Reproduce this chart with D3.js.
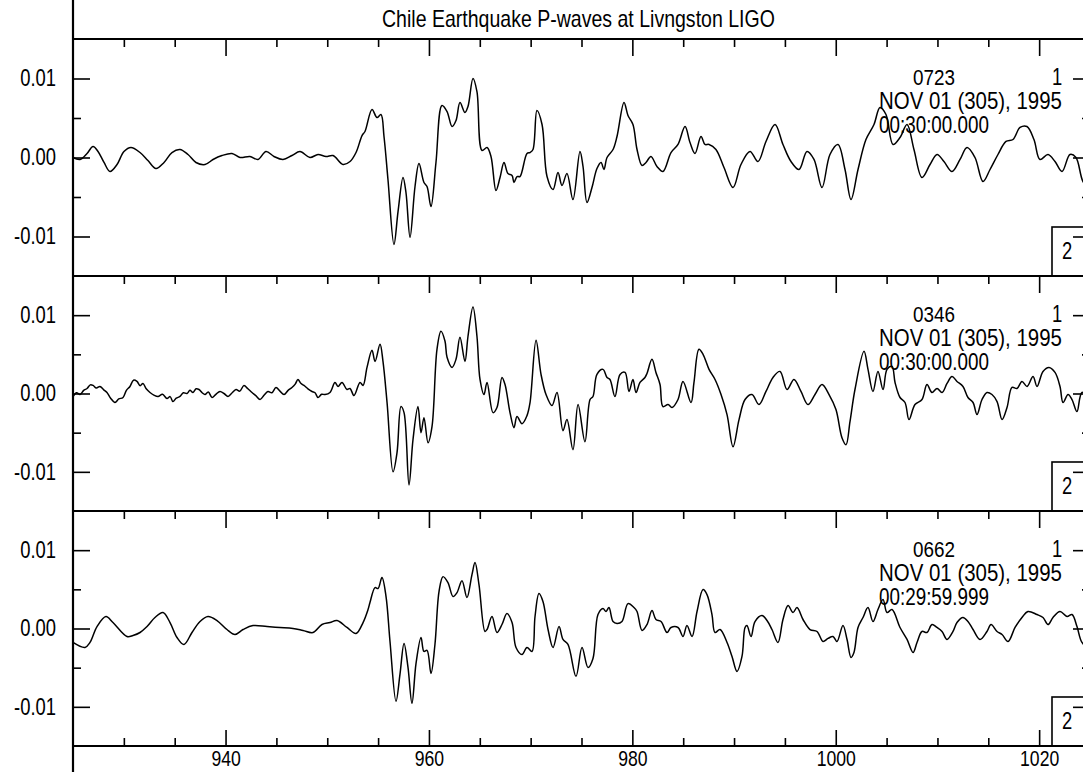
<!DOCTYPE html>
<html>
<head>
<meta charset="utf-8">
<script src="https://cdn.jsdelivr.net/npm/d3@7"></script>
<style>
  html, body { margin: 0; padding: 0; background: #fff; }
  svg { display: block; }
  text { font-family: "Liberation Sans", Arial, sans-serif; fill: #000; }
</style>
</head>
<body>
<svg id="chart" width="1083" height="772"></svg>
<script>
// ---- labels -------------------------------------------------------------
const chartTitle = "Chile Earthquake P-waves at Livngston LIGO";
const stationIds = ["0723", "0346", "0662"];
const dateLines = ["NOV 01 (305), 1995", "NOV 01 (305), 1995", "NOV 01 (305), 1995"];
const startTimes = ["00:30:00.000", "00:30:00.000", "00:29:59.999"];
const fileLabel = "1";
const boxLabel = "2";

// ---- ticks --------------------------------------------------------------
const xMajorTicks = [940, 960, 980, 1000, 1020];
const xMinorTicks = [930, 935, 945, 950, 955, 965, 970, 975, 985, 990, 995, 1005, 1010, 1015, 1025];
const yMajorTicks = [-0.01, 0, 0.01];
const yTickLabels = ["-0.01", "0.00", "0.01"];
const yMinorTicks = [-0.005, 0.005];
const timeDomain = [925, 1025];
const ampDomain = [-0.015, 0.015];

// ---- traces: [time (s), amplitude in thousandths] ------------------------
const AMP_UNIT = 0.001;

const trace0723 = [
  [925.00,0.00],[925.69,-0.25],[926.38,0.51],[926.97,1.39],[927.46,0.76],[928.05,-0.63],[928.64,-1.77],[929.33,-0.89],
  [930.01,0.76],[930.70,1.27],[931.59,0.63],[932.37,-0.38],[933.16,-1.39],[933.95,-0.63],[934.73,0.63],[935.52,1.01],
  [936.31,0.38],[937.09,-0.63],[937.98,-0.89],[938.77,-0.25],[939.65,0.25],[940.63,0.51],[941.42,0.00],[942.40,0.13],
  [943.19,-0.25],[943.98,0.76],[944.76,0.13],[945.65,-0.25],[946.53,0.25],[947.32,0.76],[948.30,0.00],[949.09,0.38],
  [949.88,0.13],[950.57,0.25],[951.55,-0.89],[952.24,-0.51],[952.83,0.63],[953.42,2.78],[953.71,3.29],[954.40,6.08],
  [954.89,5.06],[955.28,5.44],[955.58,2.66],[955.97,-2.78],[956.56,-11.0],[956.96,-6.84],[957.45,-2.53],[957.74,-4.43],
  [958.14,-10.1],[958.63,-3.67],[959.02,-0.76],[959.51,-3.16],[959.81,-3.67],[960.20,-6.20],[960.69,-0.63],[961.28,6.58],
  [961.78,5.82],[962.27,3.92],[962.66,4.68],[963.05,6.96],[963.54,5.70],[963.84,6.46],[964.33,10.0],[964.72,8.35],
  [965.22,0.89],[965.71,1.27],[966.10,0.13],[966.59,-4.18],[966.99,-2.53],[967.38,-0.63],[967.77,-2.03],[968.17,-2.28],
  [968.36,-3.16],[968.66,-2.41],[968.95,-2.41],[969.64,0.51],[969.94,0.63],[970.23,1.01],[970.62,5.95],[971.12,4.18],
  [971.61,-2.41],[972.20,-4.05],[972.69,-1.90],[973.08,-3.54],[973.57,-2.03],[974.16,-5.32],[974.85,0.76],[975.15,-1.14],
  [975.54,-5.70],[976.03,-3.80],[976.52,-1.39],[976.92,-0.63],[977.21,-1.52],[977.51,0.00],[978.10,1.01],[978.49,2.66],
  [979.18,6.96],[979.57,5.32],[980.06,4.18],[980.46,1.01],[980.95,-1.01],[981.34,-0.63],[981.83,0.13],[982.42,-1.14],
  [983.01,-1.77],[983.80,0.63],[984.49,1.65],[985.18,3.92],[985.67,1.90],[986.16,0.51],[986.75,2.66],[987.14,1.65],
  [987.54,1.65],[988.22,1.01],[989.01,-1.27],[989.90,-3.80],[990.68,-0.89],[991.57,0.76],[992.35,-0.51],[993.14,2.03],
  [994.03,4.18],[994.81,1.65],[995.60,-0.51],[996.39,-1.52],[997.17,0.76],[997.86,-0.25],[998.65,-3.80],[999.43,0.38],
  [1000.22,1.65],[1000.91,-1.52],[1001.50,-5.32],[1002.19,-1.52],[1002.97,2.28],[1003.76,4.18],[1004.35,6.33],[1004.94,5.44],
  [1005.63,1.65],[1006.32,2.53],[1007.01,4.18],[1007.69,1.01],[1008.48,-2.53],[1009.27,-0.89],[1009.96,0.38],[1010.64,-0.51],
  [1011.43,-1.77],[1012.22,-0.25],[1012.91,1.27],[1013.69,0.00],[1014.48,-3.04],[1015.17,-1.52],[1015.95,0.38],[1016.74,2.03],
  [1017.43,2.28],[1018.12,3.80],[1018.80,3.92],[1019.49,2.28],[1020.08,-0.25],[1020.87,0.38],[1021.56,-0.51],[1022.25,-1.77],
  [1023.03,0.38],[1023.62,0.00],[1024.31,-3.04],[1025.00,-4.00]
];

const trace0346 = [
  [925.00,-0.38],[925.35,0.10],[925.69,-0.13],[926.05,0.40],[926.38,0.64],[926.70,1.10],[926.97,1.03],[927.30,0.70],
  [927.65,0.90],[928.00,0.50],[928.34,0.13],[928.70,-0.60],[929.13,-1.15],[929.50,-0.70],[929.92,-0.51],[930.25,0.40],
  [930.60,0.90],[930.95,1.70],[931.29,1.54],[931.60,1.00],[931.88,1.28],[932.20,0.60],[932.57,0.13],[932.95,-0.20],
  [933.36,-0.38],[933.80,-0.10],[934.24,-0.64],[934.55,-0.40],[934.83,-1.03],[935.15,-0.60],[935.52,-0.38],[935.85,0.10],
  [936.21,0.00],[936.50,0.40],[936.80,0.13],[937.10,0.60],[937.39,0.51],[937.70,0.10],[937.98,-0.13],[938.30,0.20],
  [938.67,-0.51],[939.05,-0.10],[939.45,0.26],[939.85,0.00],[940.24,-0.38],[940.65,0.10],[941.03,0.51],[941.40,0.30],
  [941.81,1.03],[942.20,0.60],[942.60,0.13],[943.00,-0.30],[943.39,-0.77],[943.80,-0.20],[944.17,0.26],[944.55,0.10],
  [944.96,0.77],[945.35,0.30],[945.75,-0.13],[946.15,0.40],[946.53,0.77],[946.85,1.20],[947.12,1.79],[947.40,1.30],
  [947.71,1.03],[948.10,0.60],[948.50,0.26],[948.80,0.10],[949.09,-0.51],[949.45,-0.10],[949.78,-0.13],[950.27,0.13],
  [950.76,1.41],[951.06,0.90],[951.45,1.41],[951.94,0.51],[952.24,0.64],[952.63,-0.26],[953.22,1.41],[953.52,1.03],
  [953.91,3.33],[954.40,5.51],[954.70,4.10],[955.19,6.28],[955.48,4.10],[955.88,-1.15],[956.47,-10.0],[956.86,-7.56],
  [957.25,-1.67],[957.55,-2.44],[958.04,-11.67],[958.43,-5.90],[958.92,-1.67],[959.22,-5.00],[959.51,-3.08],[959.91,-6.28],
  [960.30,-4.23],[960.79,5.64],[961.18,7.95],[961.58,6.67],[961.78,4.62],[962.27,3.33],[962.66,4.36],[963.05,7.18],
  [963.54,4.10],[963.84,7.31],[964.33,11.03],[964.72,7.31],[965.02,1.79],[965.41,-0.13],[965.71,1.41],[966.30,-2.44],
  [966.69,-1.79],[967.18,2.05],[967.48,1.15],[967.97,-2.44],[968.36,-4.36],[968.66,-2.95],[969.15,-3.85],[969.64,-2.82],
  [969.94,-1.15],[970.53,6.79],[971.02,2.44],[971.51,-0.13],[972.10,-1.54],[972.59,0.13],[973.18,-4.74],[973.57,-3.33],
  [974.16,-7.18],[974.66,-1.41],[975.34,-6.15],[975.84,-0.77],[976.13,-0.38],[976.52,2.44],[977.11,3.08],[977.51,2.05],
  [977.80,1.79],[978.29,-0.38],[978.79,2.44],[979.28,2.69],[979.67,0.26],[980.06,1.79],[980.36,0.13],[980.75,1.41],
  [981.24,2.05],[981.44,2.56],[981.93,4.36],[982.32,2.69],[982.72,1.15],[983.01,-1.67],[983.51,-1.41],[983.90,-1.79],
  [984.49,-0.77],[984.98,1.54],[985.77,-1.15],[986.06,1.41],[986.55,5.64],[986.95,5.00],[987.54,3.08],[988.13,1.79],
  [988.72,-0.13],[989.31,-2.69],[989.90,-6.79],[990.49,-3.33],[991.08,-0.77],[991.76,-0.13],[992.45,-1.41],[993.14,0.26],
  [993.83,2.05],[994.52,2.82],[995.21,0.51],[995.89,1.79],[996.58,0.26],[997.27,-1.41],[997.96,-0.13],[998.65,1.15],
  [999.34,-0.13],[1000.02,-2.05],[1000.61,-5.64],[1001.01,-6.54],[1001.40,-3.59],[1001.89,0.51],[1002.78,5.38],[1003.17,3.08],
  [1003.66,0.26],[1004.15,2.82],[1004.65,0.51],[1005.04,3.08],[1005.53,3.46],[1005.83,1.41],[1006.32,-0.51],[1006.81,-1.15],
  [1007.20,-3.33],[1007.79,-1.41],[1008.48,-0.77],[1008.97,1.15],[1009.46,0.13],[1009.96,0.64],[1010.45,0.13],[1010.94,1.28],
  [1011.43,2.18],[1011.92,1.54],[1012.51,0.90],[1013.00,-0.51],[1013.50,-1.15],[1013.89,-2.69],[1014.38,-0.77],[1014.87,0.13],
  [1015.36,-0.13],[1015.86,-1.03],[1016.35,-3.33],[1016.84,-1.79],[1017.33,0.77],[1017.82,0.64],[1018.31,1.54],[1018.81,0.90],
  [1019.40,2.18],[1019.79,0.90],[1020.38,2.82],[1020.97,3.33],[1021.56,2.69],[1022.05,0.90],[1022.35,-1.15],[1022.84,-0.13],
  [1023.23,-0.77],[1023.72,-2.31],[1024.21,0.13],[1025.00,-0.13]
];

const trace0662 = [
  [925.00,-1.78],[926.18,-2.42],[926.67,-1.78],[927.36,0.25],[928.24,1.53],[928.93,0.76],[930.31,-1.02],[930.90,-0.89],
  [931.59,-0.51],[932.28,0.25],[933.06,1.40],[933.85,2.04],[934.54,0.76],[935.23,-1.15],[935.91,-2.04],[936.70,-0.51],
  [937.49,0.89],[938.27,1.53],[939.16,1.02],[940.14,-0.13],[940.93,-0.76],[941.72,-0.13],[942.70,0.38],[944.08,0.25],
  [945.35,0.13],[946.63,0.00],[947.62,-0.25],[948.60,-0.51],[949.48,0.51],[950.27,0.76],[950.96,1.02],[951.94,0.13],
  [952.83,-0.64],[953.52,0.76],[954.01,2.42],[954.20,3.31],[954.70,5.22],[954.99,5.10],[955.38,6.50],[955.78,4.08],
  [956.17,-1.66],[956.76,-9.30],[957.15,-5.86],[957.55,-1.91],[957.94,-4.97],[958.33,-9.55],[958.73,-4.46],[959.22,-1.15],
  [959.51,-2.93],[959.81,-2.80],[960.20,-5.73],[960.59,-2.04],[960.99,4.71],[961.38,6.62],[961.87,5.86],[962.37,4.08],
  [962.76,4.59],[963.25,6.11],[963.74,3.95],[964.23,6.88],[964.53,8.41],[964.92,5.61],[965.51,-0.38],[965.71,-0.13],
  [966.20,1.53],[966.69,-0.51],[967.18,0.51],[967.67,1.91],[968.17,0.76],[968.56,-2.42],[969.15,-3.31],[969.64,-2.42],
  [970.13,-2.93],[970.43,1.53],[970.82,4.46],[971.21,3.44],[971.71,-0.13],[972.20,-2.42],[972.79,0.25],[973.18,-1.40],
  [973.67,-2.04],[974.46,-6.11],[975.05,-2.42],[975.64,-4.97],[976.13,-3.82],[976.62,1.78],[977.11,2.55],[977.41,2.17],
  [977.70,2.68],[978.10,0.89],[978.49,0.64],[978.98,0.89],[979.57,3.18],[980.16,2.68],[980.46,2.17],[980.95,-0.25],
  [981.44,0.51],[981.93,2.29],[982.32,1.15],[982.82,0.89],[983.41,-0.51],[983.80,0.13],[984.49,0.13],[984.98,-1.02],
  [985.37,0.38],[985.87,-1.02],[986.36,2.17],[986.95,4.97],[987.34,4.33],[987.83,1.78],[988.13,-0.51],[988.62,-0.13],
  [989.31,-1.78],[989.80,-3.57],[990.29,-5.48],[990.78,-3.57],[991.08,0.13],[991.27,0.38],[991.67,-1.02],[992.06,0.89],
  [992.75,1.66],[993.24,1.02],[993.73,-0.13],[994.32,-1.78],[994.81,1.15],[995.31,2.93],[995.80,2.04],[996.19,2.68],
  [996.78,1.15],[997.47,-0.13],[998.16,-0.38],[998.75,-1.66],[999.24,-1.27],[999.73,-1.02],[1000.12,-1.66],[1000.71,0.38],
  [1001.11,-1.40],[1001.50,-3.69],[1001.79,-3.06],[1002.19,0.13],[1002.68,1.40],[1003.17,2.68],[1003.66,0.89],[1004.15,2.42],
  [1004.65,3.69],[1005.04,2.04],[1005.53,2.42],[1006.32,0.13],[1007.01,-1.40],[1007.60,-3.06],[1007.99,-1.78],[1008.48,-0.38],
  [1008.97,-0.51],[1009.46,0.51],[1009.96,0.13],[1010.45,-0.38],[1010.94,-1.40],[1011.53,-0.38],[1011.92,0.76],[1012.51,1.40],
  [1013.00,0.89],[1013.50,-0.13],[1014.18,-1.40],[1014.87,-0.38],[1015.27,0.51],[1015.86,-0.38],[1016.35,-0.76],[1016.94,-1.66],
  [1017.63,0.13],[1018.31,1.40],[1018.90,2.17],[1019.79,1.78],[1020.38,1.40],[1020.87,0.51],[1021.36,1.40],[1022.05,2.17],
  [1022.74,1.53],[1023.23,1.78],[1023.72,0.25],[1024.21,-1.78],[1025.00,-2.70]
];

const traces = [trace0723, trace0346, trace0662];

// ---- layout -------------------------------------------------------------
const width = 1083, height = 772;
const plotLeft = 73, plotRight = 1090;
const panelEdges = [39, 276, 511, 746];
const majorLen = 17, minorLen = 8;
const fontSize = 23;
const condense = 0.8;   // horizontal squeeze giving the narrow plotting-font look

const svg = d3.select("#chart");
svg.append("rect").attr("width", width).attr("height", height).attr("fill", "#fff");

const x = d3.scaleLinear().domain(timeDomain).range([plotLeft, plotRight]);

// Squeeze a text horizontally around its anchor point.
function squeeze(sel, sx) {
  sel.each(function () {
    const t = d3.select(this);
    const tx = +t.attr("x") || 0, ty = +t.attr("y") || 0;
    t.attr("x", 0).attr("y", 0)
      .attr("transform", `translate(${tx},${ty}) scale(${sx},1)`);
  });
}
// Squeeze a start-anchored text so it spans exactly the given width.
function fitWidth(sel, target) {
  sel.each(function () {
    const w = this.getComputedTextLength();
    squeeze(d3.select(this), target / w);
  });
}

function styleAxis(g, size = fontSize) {
  g.select(".domain").remove();
  g.selectAll(".tick line").attr("stroke", "#000").attr("stroke-width", 1.6);
  g.selectAll(".tick text").attr("font-size", size).attr("fill", "#000")
    .attr("font-family", "Liberation Sans, Arial, sans-serif")
    .call(squeeze, condense);
}

// title
svg.append("text")
  .attr("x", 382).attr("y", 27)
  .attr("font-size", fontSize)
  .text(chartTitle)
  .call(fitWidth, 393);

traces.forEach((trace, i) => {
  const top = panelEdges[i], bottom = panelEdges[i + 1];
  const y = d3.scaleLinear().domain(ampDomain).range([bottom, top]);
  const g = svg.append("g").attr("class", "panel");

  // top edge of the panel
  g.append("line").attr("x1", plotLeft).attr("x2", plotRight)
    .attr("y1", top).attr("y2", top).attr("stroke", "#000").attr("stroke-width", 1.8);

  // time ticks along the top edge, pointing inward
  g.append("g").attr("transform", `translate(0,${top})`)
    .call(d3.axisTop(x).tickValues(xMajorTicks).tickSize(-majorLen).tickFormat(""))
    .call(styleAxis);
  g.append("g").attr("transform", `translate(0,${top})`)
    .call(d3.axisTop(x).tickValues(xMinorTicks).tickSize(-minorLen).tickFormat(""))
    .call(styleAxis);

  // amplitude axis on the left with labels
  g.append("g").attr("transform", `translate(${plotLeft},0)`)
    .call(d3.axisLeft(y).tickValues(yMajorTicks).tickSize(-majorLen).tickPadding(17)
      .tickFormat((d, k) => yTickLabels[k]))
    .call(styleAxis);
  g.append("g").attr("transform", `translate(${plotLeft},0)`)
    .call(d3.axisLeft(y).tickValues(yMinorTicks).tickSize(-minorLen).tickFormat(""))
    .call(styleAxis);

  // amplitude ticks on the right edge
  g.append("g").attr("transform", `translate(${plotRight},0)`)
    .call(d3.axisRight(y).tickValues(yMajorTicks).tickSize(-majorLen).tickFormat(""))
    .call(styleAxis);
  g.append("g").attr("transform", `translate(${plotRight},0)`)
    .call(d3.axisRight(y).tickValues(yMinorTicks).tickSize(-minorLen).tickFormat(""))
    .call(styleAxis);

  // waveform
  const line = d3.line()
    .curve(d3.curveCatmullRom.alpha(0.5))
    .x(d => x(d[0]))
    .y(d => y(d[1] * AMP_UNIT));
  g.append("path").datum(trace)
    .attr("d", line)
    .attr("fill", "none")
    .attr("stroke", "#000")
    .attr("stroke-width", 1.5)
    .attr("stroke-linejoin", "round");

  // header text
  g.append("text").attr("x", 913).attr("y", top + 46).attr("font-size", fontSize)
    .text(stationIds[i]).call(fitWidth, 42);
  g.append("text").attr("x", 1052).attr("y", top + 46).attr("font-size", fontSize)
    .text(fileLabel).call(squeeze, condense);
  g.append("text").attr("x", 879).attr("y", top + 70).attr("font-size", fontSize)
    .text(dateLines[i]).call(fitWidth, 183);
  g.append("text").attr("x", 879).attr("y", top + 94).attr("font-size", fontSize)
    .text(startTimes[i]).call(fitWidth, 110);

  // boxed label at lower right
  g.append("rect").attr("x", 1052).attr("y", bottom - 49)
    .attr("width", 60).attr("height", 49)
    .attr("fill", "none").attr("stroke", "#000").attr("stroke-width", 1.6);
  g.append("text").attr("x", 1062).attr("y", bottom - 17).attr("font-size", fontSize)
    .text(boxLabel).call(squeeze, condense);
});

// bottom edge with inward ticks and time labels
const lastBottom = panelEdges[3];
svg.append("line").attr("x1", plotLeft).attr("x2", plotRight)
  .attr("y1", lastBottom).attr("y2", lastBottom).attr("stroke", "#000").attr("stroke-width", 1.8);
svg.append("g").attr("transform", `translate(0,${lastBottom})`)
  .call(d3.axisBottom(x).tickValues(xMajorTicks).tickSize(-16).tickPadding(4).tickFormat(d3.format("d")))
  .call(styleAxis, 22);
svg.append("g").attr("transform", `translate(0,${lastBottom})`)
  .call(d3.axisBottom(x).tickValues(xMinorTicks).tickSize(-minorLen).tickFormat(""))
  .call(styleAxis);

// left frame line running the full height
svg.append("line").attr("x1", plotLeft).attr("x2", plotLeft)
  .attr("y1", 0).attr("y2", height).attr("stroke", "#000").attr("stroke-width", 2.2);
</script>
</body>
</html>
